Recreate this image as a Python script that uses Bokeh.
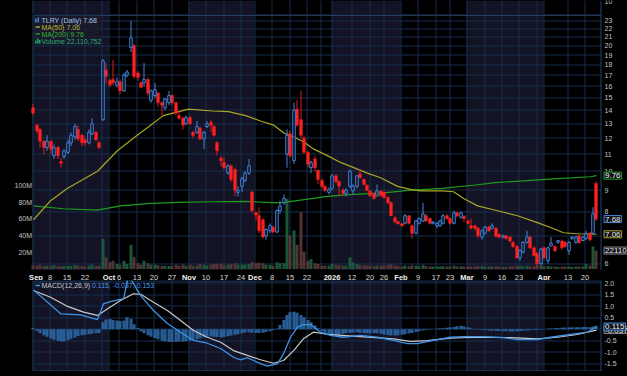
import math
from bokeh.plotting import figure
from bokeh.models import Range1d, LinearScale, Label, BoxAnnotation
from bokeh.layouts import column
from bokeh.embed import file_html
from bokeh.resources import INLINE
from bokeh.core.properties import value

# ---------------------------------------------------------------- data
month_start_idx = [0, 21, 44, 63, 85, 105, 124, 146]   # Sep..Apr first trading day
tick_idx = [0, 4, 9, 14, 21, 24, 29, 34, 39, 44, 49, 54, 59, 63, 68, 73, 78,
            85, 91, 96, 100, 105, 110, 115, 119, 124, 129, 134, 139, 146, 153, 158]
tick_lab = ["Sep", "8", "15", "22", "Oct", "6", "13", "20", "27", "Nov", "10", "17", "24",
            "Dec", "8", "15", "22", "2026", "12", "20", "26", "Feb", "9", "17", "23",
            "Mar", "9", "16", "23", "Apr", "13", "20"]
tick_bold = ["Sep", "Oct", "Nov", "Dec", "2026", "Feb", "Mar", "Apr"]
week_line_extra = [19, 82, 144]

opens = [
    14.2, 12.9, 12.6, 11.8, 11.4, 11.8, 10.9, 11.4, 10.55, 10.85, 11.1, 11.7, 12.1, 12.6, 12.2, 11.9, 11.7, 12.3, 12.4, 11.7, 13.3,
    17.5, 16.5, 16.6, 16.1, 16.4, 15.6, 17.0, 19.8, 20.0, 17.2, 16.3, 16.3, 16.6, 14.8, 15.2, 15.4, 14.6, 14.2, 14.6, 15.2, 14.6, 13.6, 13.4,
    13.0, 13.45, 12.4, 12.4, 12.7, 11.95, 12.8, 13.1, 12.8, 11.7, 10.75, 10.5, 9.9, 10.3, 10.1, 8.9, 9.2, 9.5, 9.9,
    8.9, 7.95, 7.82, 7.65, 7.0, 7.2, 7.35, 7.15, 8.05, 8.4, 11.0, 12.3, 10.6, 14.1, 13.3, 12.0, 11.1, 10.2, 10.7, 10.05, 9.5, 9.2,
    8.9, 9.1, 9.75, 9.45, 9.0, 8.85, 9.2, 8.97, 9.2, 9.85, 9.55, 9.25, 8.97, 8.85, 8.73, 8.97, 8.9, 8.65, 8.4, 7.73,
    7.57, 7.48, 7.5, 7.82, 7.4, 7.1, 7.5, 7.6, 7.82, 7.7, 7.5, 7.4, 7.4, 7.5, 7.82, 7.7, 7.5, 7.95, 7.75,
    7.8, 7.6, 7.4, 7.4, 7.3, 6.95, 7.1, 7.35, 7.3, 7.3, 7.05, 6.95, 7.0, 6.95, 6.75, 6.6, 6.2, 6.4, 6.75, 6.95, 6.55, 6.35,
    6.0, 6.55, 6.1, 6.62, 6.6, 6.75, 6.8, 6.75, 6.45, 6.9, 6.75, 7.0, 6.82, 6.9, 7.1, 7.1, 9.35]
highs = [
    14.5, 13.0, 12.7, 11.9, 12.2, 11.9, 11.6, 11.5, 10.75, 11.3, 11.9, 12.4, 13.0, 12.9, 12.3, 12.1, 12.6, 13.4, 12.5, 11.8, 18.6,
    18.2, 16.7, 18.5, 16.8, 16.6, 17.2, 17.5, 23.0, 20.2, 17.4, 16.4, 18.2, 16.8, 15.7, 16.3, 15.5, 14.7, 15.0, 15.6, 15.3, 14.7, 13.9, 13.5,
    13.6, 13.6, 12.5, 13.2, 12.8, 12.5, 13.2, 13.3, 12.9, 11.8, 10.9, 10.8, 10.4, 10.4, 10.2, 9.2, 9.7, 10.0, 10.7,
    9.0, 8.0, 8.2, 7.7, 7.3, 7.5, 7.4, 8.1, 8.5, 8.8, 12.6, 12.5, 14.6, 14.8, 15.6, 12.2, 11.2, 10.6, 10.9, 10.1, 9.6, 9.25,
    9.15, 9.85, 9.85, 9.5, 9.1, 9.1, 10.1, 9.3, 9.8, 10.1, 9.6, 9.3, 9.0, 8.9, 9.3, 9.0, 8.95, 8.7, 8.45, 7.8,
    7.6, 7.52, 7.9, 7.85, 7.45, 7.65, 7.75, 8.4, 7.9, 7.75, 7.6, 7.55, 7.65, 7.9, 7.9, 7.75, 8.05, 8.0, 8.0,
    7.85, 7.65, 7.7, 7.45, 7.35, 7.25, 7.4, 7.4, 7.5, 7.35, 7.1, 7.05, 7.05, 7.0, 6.8, 6.65, 6.5, 6.8, 7.2, 7.0, 6.6, 6.4,
    6.55, 6.6, 6.6, 6.95, 6.65, 6.85, 6.85, 6.8, 6.8, 6.97, 7.0, 7.05, 7.0, 7.2, 7.15, 8.2, 9.45]
lows = [
    13.6, 12.3, 11.4, 11.0, 11.2, 11.0, 10.7, 10.7, 10.2, 10.7, 11.0, 11.5, 11.9, 11.8, 11.5, 11.5, 11.6, 12.2, 11.8, 11.3, 13.2,
    16.2, 15.9, 16.1, 15.9, 15.3, 15.5, 16.8, 19.3, 16.7, 16.5, 15.8, 16.0, 15.2, 14.6, 15.0, 14.3, 13.6, 14.0, 14.4, 14.4, 13.6, 13.3, 12.6,
    12.9, 12.9, 12.0, 12.3, 11.9, 11.3, 12.7, 12.4, 12.1, 10.9, 10.3, 10.1, 9.8, 9.4, 8.7, 8.7, 8.9, 9.4, 9.8,
    7.95, 7.6, 7.1, 6.9, 6.85, 7.1, 7.1, 7.1, 7.9, 8.3, 10.2, 10.8, 10.4, 12.8, 12.0, 11.0, 10.2, 9.9, 10.0, 9.3, 9.1, 8.9,
    8.8, 9.0, 9.35, 8.75, 8.75, 8.7, 9.1, 8.8, 9.1, 9.6, 9.25, 8.95, 8.7, 8.55, 8.7, 8.7, 8.6, 8.35, 7.8, 7.5,
    7.45, 7.35, 7.45, 7.45, 6.9, 7.05, 7.45, 7.55, 7.55, 7.45, 7.45, 7.3, 7.35, 7.45, 7.65, 7.45, 7.45, 7.75, 7.7,
    7.55, 7.45, 7.25, 7.2, 6.9, 6.85, 7.05, 7.15, 7.25, 6.95, 6.9, 6.9, 6.85, 6.75, 6.55, 6.15, 6.1, 6.35, 6.7, 6.5, 6.25, 5.9,
    5.95, 6.15, 6.0, 6.6, 6.4, 6.7, 6.5, 6.55, 6.3, 6.85, 6.7, 6.7, 6.8, 6.85, 6.8, 7.05, 7.6]
closes = [
    13.8, 12.5, 11.8, 11.4, 11.8, 11.3, 11.4, 10.9, 10.45, 11.2, 11.7, 12.2, 12.8, 11.95, 11.7, 11.7, 12.4, 13.0, 11.9, 11.4, 18.4,
    16.9, 16.1, 16.3, 16.4, 15.6, 17.0, 17.3, 20.9, 16.9, 16.8, 15.9, 16.6, 15.4, 15.6, 15.7, 14.6, 14.4, 14.9, 15.2, 14.6, 13.8, 13.4, 12.9,
    13.45, 13.0, 12.2, 12.8, 11.95, 12.4, 13.0, 12.9, 12.2, 11.2, 10.6, 10.2, 10.3, 9.55, 9.0, 9.0, 9.6, 9.9, 10.3,
    8.05, 7.85, 7.2, 6.95, 7.25, 7.4, 7.15, 8.05, 8.25, 8.6, 12.2, 10.9, 14.0, 12.9, 12.2, 11.1, 10.4, 10.5, 10.2, 9.55, 9.2, 9.0,
    9.05, 9.75, 9.45, 9.2, 8.85, 9.0, 10.0, 9.22, 9.75, 9.65, 9.3, 9.0, 8.73, 8.6, 8.97, 8.73, 8.65, 8.4, 7.82, 7.57,
    7.48, 7.4, 7.82, 7.5, 7.1, 7.6, 7.7, 7.9, 7.6, 7.5, 7.55, 7.5, 7.6, 7.82, 7.7, 7.5, 7.95, 7.82, 7.95,
    7.7, 7.5, 7.3, 7.3, 7.0, 7.2, 7.35, 7.2, 7.4, 6.98, 6.95, 7.0, 6.9, 6.8, 6.6, 6.2, 6.45, 6.75, 6.95, 6.55, 6.28, 6.0,
    6.5, 6.2, 6.55, 6.72, 6.45, 6.82, 6.55, 6.6, 6.75, 6.95, 6.95, 6.75, 6.95, 7.1, 6.85, 7.9, 7.68]
volumes_m = [
    4.5, 4.0, 5.0, 3.5, 4.0, 3.5, 4.5, 3.5, 3.0, 3.5, 4.0, 3.5, 4.5, 4.0, 3.5, 3.0, 4.0, 5.0, 3.5, 4.0, 36.0,
    14.0, 8.0, 10.0, 6.0, 5.0, 10.0, 6.0, 29.0, 14.0, 7.0, 5.0, 10.0, 7.0, 5.0, 5.0, 4.5, 4.0, 4.0, 3.5, 4.0, 5.0, 4.0, 5.5,
    4.0, 5.0, 4.0, 4.0, 6.0, 5.0, 4.0, 5.0, 6.0, 6.0, 6.5, 5.0, 5.0, 6.0, 7.0, 5.0, 5.0, 5.5, 6.0,
    8.0, 7.0, 7.5, 7.0, 5.0, 5.0, 4.0, 8.0, 7.0, 7.0, 84.0, 40.0, 46.0, 29.0, 68.0, 21.0, 10.0, 12.0, 7.0, 6.0, 4.0, 4.0,
    4.0, 6.0, 5.0, 4.5, 4.0, 4.0, 14.0, 8.0, 6.0, 5.0, 4.5, 4.0, 4.0, 3.5, 4.0, 4.0, 4.5, 5.0, 5.5, 4.0,
    3.5, 3.0, 4.0, 3.5, 4.5, 4.0, 3.5, 5.0, 3.5, 3.0, 3.0, 3.0, 3.0, 3.5, 3.0, 3.0, 4.0, 3.0, 3.5,
    3.0, 3.0, 3.0, 3.0, 3.5, 3.5, 3.0, 3.0, 3.0, 3.5, 3.0, 2.5, 2.5, 3.0, 3.0, 4.0, 3.5, 3.5, 4.0, 3.5, 3.0, 4.5,
    4.0, 3.5, 3.5, 3.0, 3.0, 2.5, 3.0, 3.0, 3.0, 2.5, 3.0, 3.0, 3.0, 6.0, 4.0, 27.0, 22.110752]

ma50_idx = [0.1, 5.0, 9.9, 18.5, 24.2, 29.9, 33.3, 37.4, 44.7, 51.6, 56.2, 61.1, 65.4, 69.2, 72.1, 74.9, 77.8, 80.7, 84.6,
            88.4, 92.2, 96.1, 99.9, 104.8, 108.5, 111.4, 117.9, 120.9, 123.8, 127.8, 133.6, 139.3, 145.0, 148.8, 152.5, 156.5, 162.0]
ma50_val = [7.65, 8.5, 9.1, 10.0, 11.2, 12.2, 12.8, 13.6, 14.1, 13.95, 13.9, 13.6, 13.2, 12.9, 12.35, 12.1, 11.75, 11.3, 10.9,
            10.5, 10.2, 9.9, 9.65, 9.2, 9.05, 8.97, 8.97, 8.93, 8.6, 8.26, 8.04, 7.82, 7.53, 7.33, 7.12, 7.08, 7.06]
ma200_idx = [0.1, 8.7, 18.4, 25.1, 33.7, 41.8, 51.6, 61.1, 66.8, 71.1, 76.9, 84.6, 92.1, 99.9, 107.9, 117.7, 127.2, 133.0,
             141.0, 150.8, 160.3, 162.0]
ma200_val = [8.26, 8.13, 8.07, 8.26, 8.37, 8.42, 8.45, 8.47, 8.42, 8.4, 8.53, 8.7, 8.8, 8.86, 9.0, 9.1, 9.27, 9.39,
             9.48, 9.6, 9.7, 9.76]

macd_idx = [0.1, 7.9, 13.6, 18.5, 20.2, 22.2, 26.0, 26.8, 27.4, 28.8, 30.9, 34.6, 38.6, 42.4, 46.1, 50.1, 53.9, 57.6, 59.6, 61.6,
            65.4, 67.4, 70.3, 72.0, 74.0, 76.0, 77.7, 79.8, 82.6, 85.5, 89.2, 94.1, 99.0, 103.6, 107.7, 110.5, 115.1, 120.0,
            123.8, 129.5, 135.3, 139.3, 145.0, 148.8, 154.5, 159.4, 162.0]
macd_val = [1.71, 0.67, 0.62, 0.42, 1.1, 1.2, 1.33, 1.9, 2.3, 2.0, 1.46, 0.81, 0.25, -0.13, -0.49, -0.61, -0.84, -1.22, -1.33, -1.24,
            -1.5, -1.61, -1.5, -1.07, -0.35, 0.09, 0.2, 0.2, -0.13, -0.27, -0.35, -0.27, -0.35, -0.49, -0.63, -0.63, -0.49, -0.35,
            -0.32, -0.32, -0.37, -0.45, -0.45, -0.35, -0.23, -0.13, 0.115]
sig_idx = [0.1, 5.0, 9.9, 14.5, 18.5, 21.4, 25.1, 28.8, 30.9, 34.6, 38.6, 42.4, 46.1, 50.1, 53.9, 57.6, 61.6, 65.4, 69.1, 72.0,
           74.9, 77.7, 80.6, 85.5, 94.1, 103.6, 108.5, 113.4, 120.0, 127.8, 137.3, 145.0, 150.8, 156.5, 162.0]
sig_val = [1.68, 1.39, 0.99, 0.74, 0.6, 0.89, 1.25, 1.54, 1.52, 1.17, 0.81, 0.38, -0.06, -0.35, -0.57, -0.93, -1.14, -1.33, -1.48, -1.36,
           -0.93, -0.42, -0.13, -0.24, -0.32, -0.42, -0.53, -0.5, -0.39, -0.35, -0.37, -0.42, -0.35, -0.23, -0.037]
macd_hist = [
    0.05, -0.08, -0.18, -0.26, -0.33, -0.40, -0.46, -0.50, -0.53, -0.52,
    -0.48, -0.42, -0.36, -0.30, -0.26, -0.24, -0.22, -0.20, -0.18, -0.16,
    0.30, 0.42, 0.44, 0.40, 0.38, 0.36, 0.38, 0.52, 0.45, 0.22,
    0.05, -0.10, -0.18, -0.26, -0.33, -0.38, -0.44, -0.50, -0.54, -0.56,
    -0.56, -0.55, -0.54, -0.53, -0.52, -0.50, -0.47, -0.44, -0.40, -0.36,
    -0.33, -0.32, -0.33, -0.35, -0.36, -0.34, -0.31, -0.27, -0.24, -0.22,
    -0.18, -0.14, -0.13, -0.15, -0.16, -0.16, -0.15, -0.12, -0.09, -0.05,
    0.02, 0.18, 0.40, 0.62, 0.74, 0.76, 0.72, 0.62, 0.52, 0.40,
    0.30, 0.16, 0.04, -0.08, -0.16, -0.22, -0.26, -0.27, -0.24, -0.20,
    -0.17, -0.15, -0.14, -0.13, -0.15, -0.17, -0.18, -0.18, -0.17, -0.18,
    -0.20, -0.23, -0.25, -0.27, -0.27, -0.26, -0.24, -0.22, -0.19, -0.16,
    -0.12, -0.09, -0.06, -0.04, -0.02, 0.00, 0.02, 0.03, 0.04, 0.06,
    0.08, 0.10, 0.13, 0.15, 0.12, 0.08, 0.04, 0.01, -0.02, -0.04,
    -0.05, -0.06, -0.07, -0.08, -0.08, -0.09, -0.09, -0.10, -0.10, -0.09,
    -0.08, -0.07, -0.06, -0.05, -0.04, -0.03, -0.02, 0.00, 0.02, 0.03,
    0.04, 0.05, 0.06, 0.07, 0.07, 0.08, 0.08, 0.09, 0.10, 0.10,
    0.09, 0.12, 0.153]

price_ticks = [6, 7, 8, 9, 10, 11, 12, 13, 14, 15, 16, 17, 18, 19, 20, 21, 22, 23]
vol_ticks_m = [20, 40, 60, 80, 100]
macd_ticks = [2.0, 1.5, 1.0, 0.5, 0.0, -0.5, -1.0, -1.5]

N = len(closes)
for arr in (opens, highs, lows, volumes_m, macd_hist):
    assert len(arr) == N, len(arr)

# ---------------------------------------------------------------- geometry / style
W = 627
FONT = "Liberation Sans"
PX0, PXD = 32.7, 3.477


def ix(px):
    return (px - PX0) / PXD


def sx(i):
    return ix(math.floor(PX0 + PXD * i) + 0.5)


XR = (ix(0), ix(W))
FL, FR = ix(33), ix(601)


def pr(y):      # page row -> price (main panel, log scale)
    return 23.0 * math.exp(-(y - 20.0) / 181.0)


def ypx(p):
    return 20.0 + 181.0 * math.log(23.0 / p)


def my(y):      # page row -> MACD value
    return (328.7 - y) / 23.0


BG = "#000000"
BAND = "#131325"
GRID = "#172f4c"
EDGE = "#23456c"
RED = "#ff2222"
REDW = "#e01c1c"
BLUE = "#4283da"
MA50C = "#a9a624"
MA200C = "#1f9d1f"
TXT = "#c4c4c4"

grid_x = [sx(i + 0.8) for i in sorted(set(tick_idx[1:] + week_line_extra))]
ms = month_start_idx
band_l = [FL, sx(ms[2] + 0.8) - 0.14, sx(ms[4] + 0.8) - 0.14, sx(ms[6] + 0.8) - 0.14]
band_r = [sx(ms[1] + 0.8) - 0.14, sx(ms[3] + 0.8) - 0.14, sx(ms[5] + 0.8) - 0.14, sx(ms[7] + 0.8) - 0.14]


def base(h, yr, ytype="linear"):
    p = figure(width=W, height=h, x_range=Range1d(*XR), y_range=yr, y_axis_type=ytype,
               x_axis_location=None, y_axis_location=None, toolbar_location=None,
               output_backend="svg", min_border=0, min_border_left=0, min_border_right=0,
               min_border_top=0, min_border_bottom=0,
               background_fill_color=BG, border_fill_color=BG, outline_line_color=None,
               styles={"background-color": BG})
    p.grid.visible = False
    return p


def panel_bg(p, ybot, ytop):
    p.quad(left=band_l, right=band_r, bottom=ybot, top=ytop, fill_color=BAND,
           line_color=None, level="image")
    n = len(grid_x)
    p.segment(x0=grid_x, x1=grid_x, y0=[ybot] * n, y1=[ytop] * n,
              line_color=GRID, line_width=1, level="underlay")
    p.segment(x0=[ix(32.5), ix(600.5)], x1=[ix(32.5), ix(600.5)], y0=[ybot, ybot], y1=[ytop, ytop],
              line_color=EDGE, line_width=1, level="underlay")


def txt(p, xs, ys, texts, color, size="7px", align="left", baseline="middle", bold=False, **kw):
    p.text(x=xs, y=ys, text=texts, text_color=color, text_font=value(FONT),
           text_font_size=value(size), text_align=align, text_baseline=baseline,
           text_font_style="bold" if bold else "normal", **kw)


def tag(p, y, text, border, **kw):
    p.add_layout(Label(x=ix(603.5), y=y, text=text, text_font=FONT, text_font_size="8px",
                       text_color="#ececec", text_align="left", text_baseline="middle",
                       background_fill_color="#111119", background_fill_alpha=1.0,
                       border_line_color=border, border_line_width=1, padding=1, **kw))


# ---------------------------------------------------------------- top strip (rows 0-14)
top = base(14, Range1d(0, 14))
panel_bg(top, 0, 14)
txt(top, [ix(604)], [12.6], ["10"], TXT)

# ---------------------------------------------------------------- main price panel (rows 14-270)
main = base(256, Range1d(pr(270), pr(14)), "log")
VPX = 0.835  # px per million
main.extra_y_ranges = {"vol": Range1d(-(270 - 268.5) / VPX * 1e6, (268.5 - 14) / VPX * 1e6)}
main.extra_y_scales = {"vol": LinearScale()}
panel_bg(main, pr(270), pr(14))
hy = [pr(math.floor(ypx(t)) + 0.5) for t in price_ticks]
main.segment(x0=[FL] * len(hy), x1=[FR] * len(hy), y0=hy, y1=hy, line_color=GRID, line_width=1, level="underlay")
main.segment(x0=[FL], x1=[FR], y0=[pr(14.6)], y1=[pr(14.6)], line_color="#2c4c74", line_width=1.5, level="underlay")

xs = [sx(i) for i in range(N)]
up = [c >= o for o, c in zip(opens, closes)]

# volume
main.vbar(x=xs, width=0.85, bottom=0, top=[v * 1e6 for v in volumes_m], y_range_name="vol",
          fill_color=["#1d5f3d" if u else "#5b3a3a" for u in up], fill_alpha=0.9, line_color=None)

# moving averages
main.line(ma200_idx, ma200_val, line_color=MA200C, line_width=1.2)
main.line(ma50_idx, ma50_val, line_color=MA50C, line_width=1.2)

# candles
rx = [x for x, u in zip(xs, up) if not u]
ro = [o for o, u in zip(opens, up) if not u]
rc = [c for c, u in zip(closes, up) if not u]
rh = [h for h, u in zip(highs, up) if not u]
rl = [l for l, u in zip(lows, up) if not u]
main.segment(x0=rx, x1=rx, y0=rl, y1=rh, line_color=REDW, line_width=1)
main.vbar(x=rx, width=0.78, top=ro, bottom=rc, fill_color=RED, line_color=RED, line_width=0.5)

bx = [x for x, u in zip(xs, up) if u]
bo = [o for o, u in zip(opens, up) if u]
bc = [c for c, u in zip(closes, up) if u]
bh = [h for h, u in zip(highs, up) if u]
bl = [l for l, u in zip(lows, up) if u]
main.segment(x0=bx, x1=bx, y0=bc, y1=bh, line_color=BLUE, line_width=1)
main.segment(x0=bx, x1=bx, y0=bl, y1=bo, line_color=BLUE, line_width=1)
main.vbar(x=bx, width=0.72, top=bc, bottom=bo, fill_color="#0a0a14", fill_alpha=0.6,
          line_color=BLUE, line_width=1)

# axis labels
txt(main, [ix(604)] * len(price_ticks), price_ticks, [str(t) for t in price_ticks], TXT)
txt(main, [ix(31.5)] * len(vol_ticks_m), [v * 1e6 for v in vol_ticks_m],
    ["%dM" % v for v in vol_ticks_m], TXT, align="right", y_range_name="vol")

# legend box
main.quad(left=[FL], right=[ix(99)], top=[pr(15)], bottom=[pr(44)],
          fill_color="#1c1c2c", fill_alpha=0.75, line_color=None, level="guide")
leg_y = [pr(19.5), pr(26.5), pr(33.5), pr(40.5)]
txt(main, [ix(41)] * 4, leg_y,
    ["TLRY (Daily) 7.68", "MA(50) 7.06", "MA(200) 9.76", "Volume 22,110,752"],
    ["#aac4e8", "#bdb936", "#35b535", "#27ad72"], level="overlay")
main.segment(x0=[ix(35), ix(35)], x1=[ix(39.5), ix(39.5)], y0=[leg_y[1], leg_y[2]], y1=[leg_y[1], leg_y[2]],
             line_color=[MA50C, MA200C], line_width=1.5, level="overlay")
main.quad(left=[ix(34.5), ix(37)], right=[ix(36), ix(38.5)], bottom=[pr(22), pr(22)], top=[pr(18), pr(17)],
          fill_color=BLUE, line_color=None, level="overlay")
main.quad(left=[ix(34.5), ix(36.5), ix(38.5)], right=[ix(36), ix(38), ix(40)],
          bottom=[pr(43)] * 3, top=[pr(40), pr(38), pr(39.5)], fill_color="#22a56c", line_color=None, level="overlay")

# value tags
tag(main, 22.110752e6, "22110752", "#8a8a8a", y_range_name="vol")
tag(main, 9.76, "9.76", MA200C)
tag(main, 7.06, "7.06", MA50C)
tag(main, 7.68, "7.68", BLUE)

# ---------------------------------------------------------------- x labels strip (rows 270-280)
xl = base(10, Range1d(0, 10))
lx = [sx(i + 0.8) for i in tick_idx]
norm = [(x, t) for x, t in zip(lx, tick_lab) if t not in tick_bold]
bold = [(x, t) for x, t in zip(lx, tick_lab) if t in tick_bold]
txt(xl, [a for a, _ in norm], [4.6] * len(norm), [b for _, b in norm], "#dcdcdc", size="7.5px", align="center")
txt(xl, [a for a, _ in bold], [4.6] * len(bold), [b for _, b in bold], "#f0f0f0", size="7.5px",
    align="center", bold=True)

# ---------------------------------------------------------------- MACD panel (rows 280-371)
mp = base(91, Range1d(my(371), my(280)))
panel_bg(mp, my(371), my(280))
gy = [my(math.floor(328.7 - t * 23.0) + 0.5) for t in macd_ticks]
mp.segment(x0=[FL] * len(gy), x1=[FR] * len(gy), y0=gy, y1=gy, line_color=GRID, line_width=1, level="underlay")
mp.segment(x0=[FL, FL], x1=[FR, FR], y0=[my(280.5), my(370.5)], y1=[my(280.5), my(370.5)],
           line_color=EDGE, line_width=1, level="underlay")
mp.vbar(x=xs, width=0.9, bottom=0, top=macd_hist, fill_color="#2f6cad", fill_alpha=0.85, line_color=None)
mp.line(sig_idx, sig_val, line_color="#c9c9c9", line_width=1.2)
mp.line(macd_idx, macd_val, line_color="#3f92e6", line_width=1.3)
txt(mp, [ix(604)] * len(macd_ticks), macd_ticks, ["%.1f" % t for t in macd_ticks], TXT)
mp.segment(x0=[ix(35)], x1=[ix(39.5)], y0=[my(285)], y1=[my(285)], line_color="#3f92e6", line_width=1.5)
txt(mp, [ix(41)], [my(285)], ["MACD(12,26,9)"], "#c8c8c8")
txt(mp, [ix(91.5)], [my(285)], ["0.115, -0.037, 0.153"], "#4a95e2")
tag(mp, -0.037, "-0.037", "#8a8a8a")
tag(mp, 0.115, "0.115", "#3f92e6")

# ---------------------------------------------------------------- Williams %R sliver (rows 371-376)
wr = base(5, Range1d(0, 5))
panel_bg(wr, 0, 5)
txt(wr, [ix(41)], [4.2], ["Williams%R(14) -55.87"], "#4a95e2", baseline="top")

layout = column(top, main, xl, mp, wr, spacing=0, styles={"background-color": BG})
html = file_html(layout, INLINE)
html = html.replace("<head>", "<head><style>html,body{margin:0;padding:0;background:#000;}</style>", 1)
open("out.html", "w").write(html)
